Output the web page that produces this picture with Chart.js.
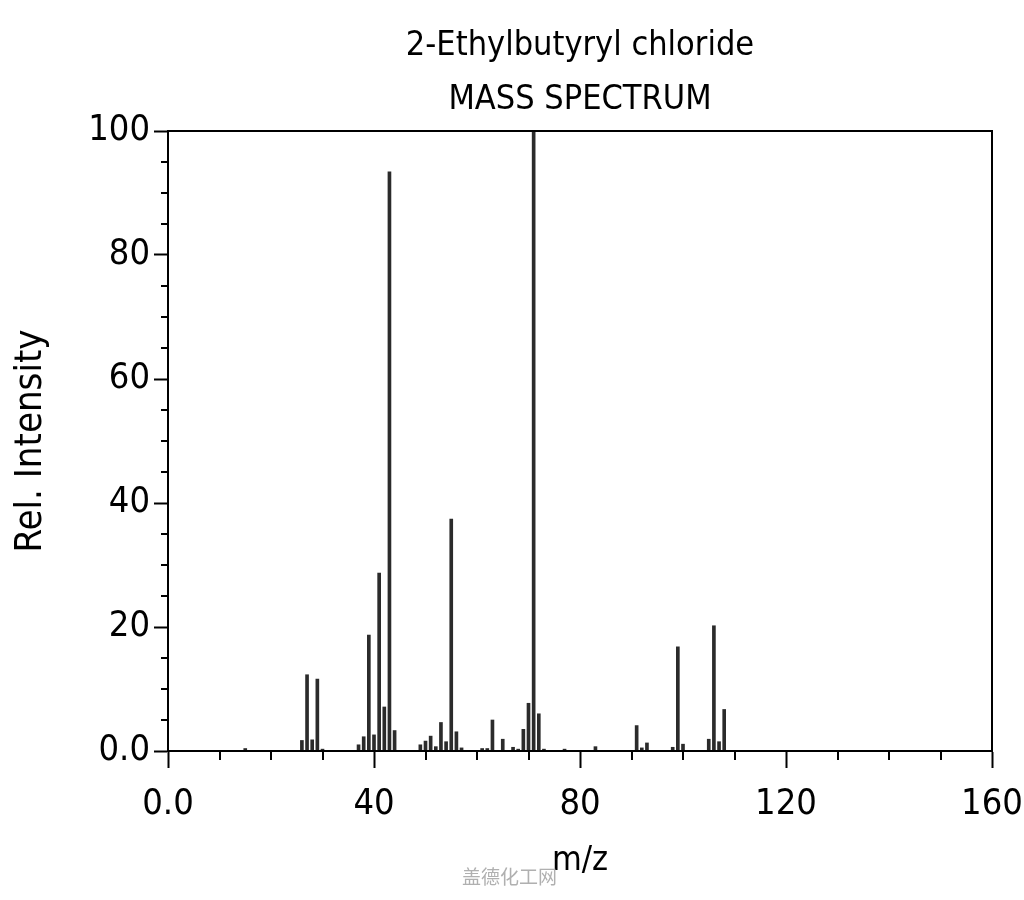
<!DOCTYPE html>
<html>
<head>
<meta charset="utf-8">
<script src="https://cdn.jsdelivr.net/npm/chart.js@4.4.1/dist/chart.umd.min.js"></script>
<style>
  html, body { margin: 0; padding: 0; background: #fff; }
  #wrap { position: relative; width: 1024px; height: 900px; }
  #mark { position: absolute; left: 462px; top: 862px;
          font: 19px "Noto Sans CJK SC", sans-serif; color: #b0b0b0; }
</style>
</head>
<body>
<div id="wrap">
  <canvas id="chart" width="1024" height="900"></canvas>
  <div id="mark">盖德化工网</div>
</div>
<script>
// m/z values and relative intensities
const mz = [15, 26, 27, 28, 29, 30, 37, 38, 39, 40, 41, 42, 43, 44,
  49, 50, 51, 52, 53, 54, 55, 56, 57, 61, 62, 63, 65, 67, 68, 69, 70, 71, 72, 73,
  77, 83, 91, 92, 93, 98, 99, 100, 105, 106, 107, 108];
const intensity = [0.4, 1.7, 12.3, 1.8, 11.6, 0.3, 1.0, 2.3, 18.7, 2.6, 28.7, 7.1, 93.4, 3.3,
  1.0, 1.6, 2.4, 0.7, 4.6, 1.5, 37.4, 3.1, 0.5, 0.4, 0.4, 5.0, 1.9, 0.6, 0.3, 3.5, 7.7, 100, 6.0, 0.3,
  0.3, 0.7, 4.1, 0.5, 1.3, 0.6, 16.8, 1.1, 1.9, 20.2, 1.5, 6.7];

const titleLines = ["2-Ethylbutyryl chloride", "MASS SPECTRUM"];
const xMajor = 40, xMinor = 10, xMax = 160;
const yMajor = 20, yMinor = 5, yMax = 100;

const FONT = "'DejaVu Sans Condensed', 'DejaVu Sans', sans-serif";

// title centred over the plot, minor ticks, closed frame
const frame = {
  id: "frame",
  afterDraw(chart) {
    const { ctx, chartArea: a, scales } = chart;
    ctx.save();
    ctx.fillStyle = "#000";
    ctx.font = "34px " + FONT;
    ctx.textAlign = "center";
    ctx.textBaseline = "middle";
    const cx = (a.left + a.right) / 2;
    ctx.fillText(titleLines[0], cx, 46);
    ctx.fillText(titleLines[1], cx, 100);

    ctx.strokeStyle = "#000";
    ctx.lineWidth = 2;
    ctx.strokeRect(a.left, a.top, a.right - a.left, a.bottom - a.top);
    ctx.beginPath();
    for (let v = 0; v <= xMax; v += xMinor) {
      if (v % xMajor === 0) continue;
      const px = Math.round(scales.x.getPixelForValue(v));
      ctx.moveTo(px, a.bottom);
      ctx.lineTo(px, a.bottom + 9);
    }
    for (let v = 0; v <= yMax; v += yMinor) {
      if (v % yMajor === 0) continue;
      const py = Math.round(scales.y.getPixelForValue(v));
      ctx.moveTo(a.left - 7, py);
      ctx.lineTo(a.left, py);
    }
    ctx.stroke();
    ctx.restore();
  }
};

new Chart(document.getElementById("chart"), {
  type: "bar",
  data: {
    datasets: [{
      data: mz.map((m, i) => ({ x: m, y: intensity[i] })),
      backgroundColor: "#2b2b2b",
      barThickness: 3,
      borderWidth: 0
    }]
  },
  options: {
    responsive: false,
    animation: false,
    layout: { padding: { left: 0, right: 32, top: 131, bottom: 0 } },
    plugins: {
      legend: { display: false },
      tooltip: { enabled: false },
      title: { display: false }
    },
    scales: {
      x: {
        type: "linear",
        min: 0,
        max: xMax,
        offset: false,
        border: { color: "#000", width: 2 },
        grid: { offset: false, drawOnChartArea: false, tickLength: 17, tickWidth: 2, tickColor: "#000" },
        ticks: {
          stepSize: xMajor,
          autoSkip: false,
          maxRotation: 0,
          color: "#000",
          padding: 15,
          font: { family: FONT, size: 36 },
          callback: (v) => (v === 0 ? "0.0" : v)
        },
        title: {
          display: true,
          text: "m/z",
          color: "#000",
          font: { family: FONT, size: 34 },
          padding: { top: 0, bottom: 18 }
        },
        afterFit: (s) => { s.height = 149; s.paddingLeft = 0; s.paddingRight = 0; }
      },
      y: {
        min: 0,
        max: yMax,
        border: { color: "#000", width: 2 },
        grid: { drawOnChartArea: false, tickLength: 14, tickWidth: 2, tickColor: "#000" },
        ticks: {
          stepSize: yMajor,
          color: "#000",
          padding: 4,
          font: { family: FONT, size: 36 },
          callback: (v) => (v === 0 ? "0.0" : v)
        },
        title: {
          display: true,
          text: "Rel. Intensity",
          color: "#000",
          font: { family: FONT, size: 38 },
          padding: { bottom: 0, top: 8 }
        },
        afterFit: (s) => { s.width = 168; s.paddingTop = 0; s.paddingBottom = 0; }
      }
    }
  },
  plugins: [frame]
});
</script>
</body>
</html>
